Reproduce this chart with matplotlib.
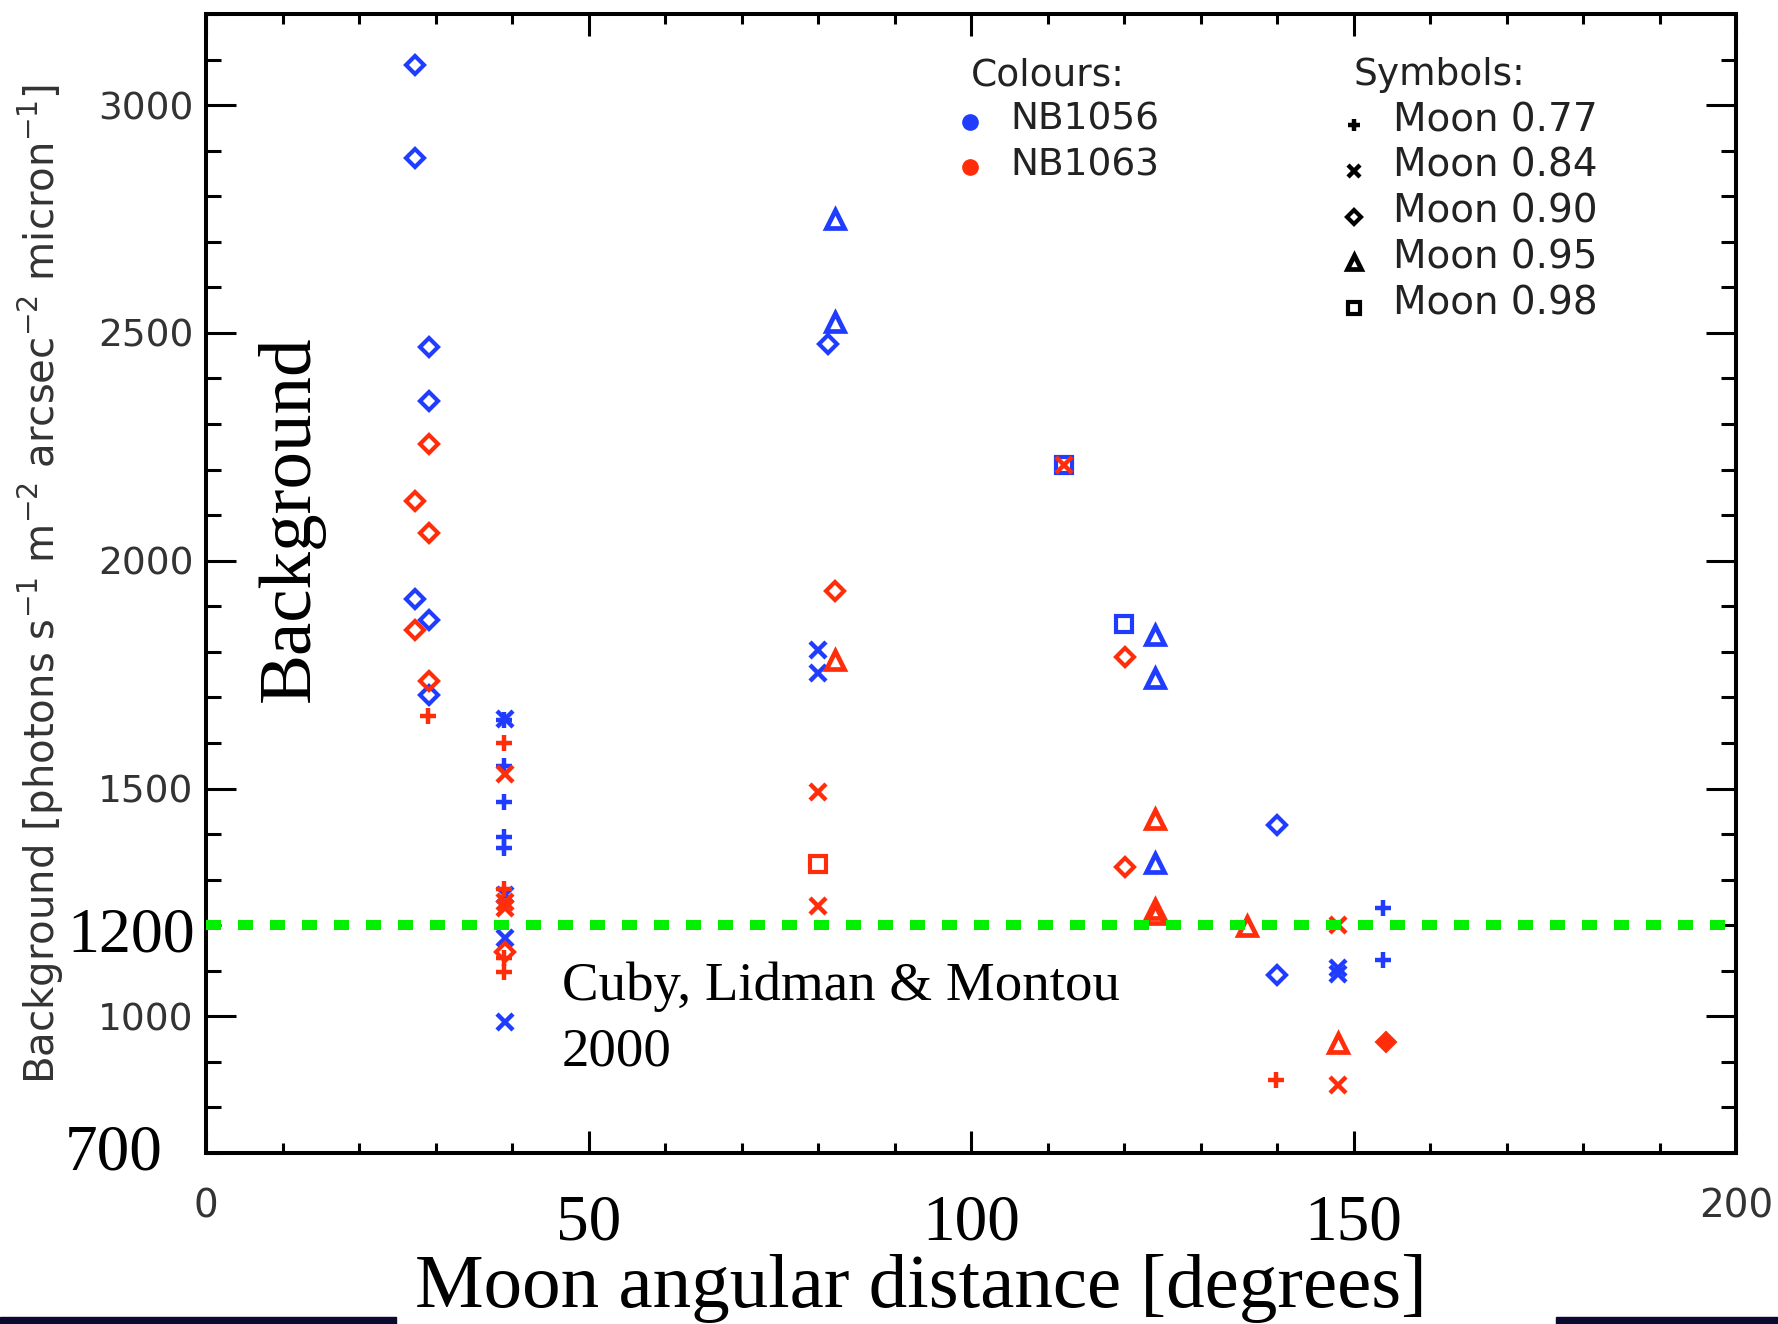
import matplotlib.pyplot as plt
from matplotlib.patches import Rectangle
from matplotlib.ticker import MultipleLocator
from matplotlib.transforms import blended_transform_factory

W, H = 1778, 1324

# Sky background vs Moon distance, NB1056 (blue) and NB1063 (red)
# moon phase 0.77 -> '+', 0.84 -> 'x', 0.90 -> diamond, 0.95 -> triangle, 0.98 -> square
nb1056_p77_dist = [39.0, 39.0, 39.0, 39.0, 39.0, 153.9, 153.9]
nb1056_p77_bg = [1651, 1550, 1471, 1394, 1370, 1238, 1123]
nb1056_p84_dist = [39.1, 39.1, 39.1, 39.1, 80.0, 80.0, 148.0, 148.0]
nb1056_p84_bg = [1652, 1266, 1171, 988, 1804, 1753, 1107, 1092]
nb1056_p90_dist = [27.3, 27.3, 29.2, 29.2, 27.3, 29.2, 29.2, 81.3, 140.0, 140.0]
nb1056_p90_bg = [3087, 2885, 2470, 2350, 1915, 1869, 1706, 2476, 1419, 1090]
nb1056_p95_dist = [82.2, 82.2, 124.0, 124.0, 124.0]
nb1056_p95_bg = [2750, 2525, 1837, 1742, 1336]
nb1056_p98_dist = [112.1, 120.0]
nb1056_p98_bg = [2210, 1861]

nb1063_p77_dist = [29.0, 39.0, 39.0, 39.0, 39.0, 139.9]
nb1063_p77_bg = [1659, 1601, 1280, 1127, 1098, 860]
nb1063_p84_dist = [39.1, 39.1, 39.1, 80.0, 80.0, 112.1, 148.0, 148.0]
nb1063_p84_bg = [1531, 1252, 1237, 1493, 1242, 2210, 1200, 849]
nb1063_p90_dist = [29.2, 27.3, 29.2, 27.3, 29.2, 39.1, 82.2, 120.1, 120.1]
nb1063_p90_bg = [2257, 2132, 2061, 1848, 1737, 1142, 1934, 1788, 1328]
nb1063_p95_dist = [82.2, 124.0, 124.0, 124.0, 136.1, 148.0]
nb1063_p95_bg = [1781, 1433, 1235, 1225, 1198, 942]
nb1063_p98_dist = [80.0]
nb1063_p98_bg = [1334]
nb1063_solid_dist = [154.2]
nb1063_solid_bg = [943]

limit_bg = 1200
x_ticks = [0, 50, 100, 150, 200]
y_ticks = [1000, 1500, 2000, 2500, 3000]

BLUE = '#1f3cff'
RED = '#ff2d0a'
GREEN = '#00f000'
IDL = ['DejaVu Sans']
SERIF = ['Liberation Serif', 'DejaVu Serif']

# marker style per moon phase: (marker, size, edge width, hollow)
styles = {
    '0.77': ('+', 11, 3.2, False),
    '0.84': ('x', 11, 3.2, False),
    '0.90': ('D', 9.5, 3.0, True),
    '0.95': ('^', 12.5, 3.4, True),
    '0.98': ('s', 11.5, 3.0, True),
}

series = [
    (BLUE, '0.77', nb1056_p77_dist, nb1056_p77_bg),
    (BLUE, '0.84', nb1056_p84_dist, nb1056_p84_bg),
    (BLUE, '0.90', nb1056_p90_dist, nb1056_p90_bg),
    (BLUE, '0.95', nb1056_p95_dist, nb1056_p95_bg),
    (BLUE, '0.98', nb1056_p98_dist, nb1056_p98_bg),
    (RED, '0.77', nb1063_p77_dist, nb1063_p77_bg),
    (RED, '0.84', nb1063_p84_dist, nb1063_p84_bg),
    (RED, '0.90', nb1063_p90_dist, nb1063_p90_bg),
    (RED, '0.95', nb1063_p95_dist, nb1063_p95_bg),
    (RED, '0.98', nb1063_p98_dist, nb1063_p98_bg),
]


def fx(x):
    return x / W


def fy(y):
    return 1 - y / H


fig = plt.figure(figsize=(W / 100, H / 100), dpi=100)
ax = fig.add_axes([fx(206), fy(1153), fx(1736) - fx(206), fy(14) - fy(1153)])

for color, phase, xs, ys in series:
    m, ms, mew, hollow = styles[phase]
    ax.plot(xs, ys, linestyle='none', marker=m, ms=ms, mew=mew, color=color,
            mfc='none' if hollow else color, zorder=3)
ax.plot(nb1063_solid_dist, nb1063_solid_bg, linestyle='none', marker='D', ms=10,
        mew=1.5, color=RED, zorder=3)

# 1200 limit
ax.axhline(limit_bg, color=GREEN, lw=7.2, dashes=(1.5, 1.7), dash_capstyle='butt', zorder=4)

ax.set_xlim(0, 200)
ax.set_ylim(700, 3200)
ax.set_xticks(x_ticks)
ax.xaxis.set_minor_locator(MultipleLocator(10))
ax.set_yticks(y_ticks)
ax.yaxis.set_minor_locator(MultipleLocator(100))
# only the end labels use the plot font, the inner ones are set in serif below
ax.set_xticklabels([str(t) if t in (0, 200) else '' for t in x_ticks])

for sp in ax.spines.values():
    sp.set_linewidth(2.9)
ax.tick_params(which='both', direction='in', top=True, right=True, width=2.2,
               labelcolor='#333333')
ax.tick_params(axis='x', which='major', length=15.8, pad=25, labelsize=28)
ax.tick_params(axis='x', which='minor', length=7.2)
ax.tick_params(axis='y', which='major', length=21.6, pad=9, labelsize=27)
ax.tick_params(axis='y', which='minor', length=10.8)
for lab in ax.get_xticklabels() + ax.get_yticklabels():
    lab.set_family(IDL)

ax.set_ylabel(r'Background [photons s$^{-1}$ m$^{-2}$ arcsec$^{-2}$ micron$^{-1}$]',
              family=IDL, fontsize=29, color='#333333')
ax.yaxis.set_label_coords(-(206 - 66) / (1736 - 206), 0.5)

# legend panels
fig.text(fx(971), fy(75), 'Colours:', family=IDL, fontsize=27, va='center', color='#222222')
for yy, col, name in [(120, BLUE, 'NB1056'), (165, RED, 'NB1063')]:
    ax.plot([fx(970)], [fy(yy + 2)], transform=fig.transFigure, clip_on=False,
            marker='o', ms=11, color=col, linestyle='none')
    fig.text(fx(1010), fy(yy), name, family=IDL, fontsize=27, va='center', color='#222222')

fig.text(fx(1353), fy(75), 'Symbols:', family=IDL, fontsize=27, va='center', color='#222222')
for i, phase in enumerate(['0.77', '0.84', '0.90', '0.95', '0.98']):
    yy = 120 + i * 45.8
    m, ms, mew, hollow = styles[phase]
    ax.plot([fx(1354)], [fy(yy + 5)], transform=fig.transFigure, clip_on=False,
            marker=m, ms=ms * 0.8, mew=mew, color='black',
            mfc='none' if hollow else 'black', linestyle='none')
    fig.text(fx(1393), fy(yy), 'Moon ' + phase, family=IDL, fontsize=28, va='center',
             color='#222222')

# serif overlay labels
tx = blended_transform_factory(ax.transData, fig.transFigure)
for v in x_ticks[1:-1]:
    ax.text(v, fy(1239), str(v), transform=tx, ha='center', va='baseline',
            family=SERIF, fontsize=47)
fig.text(fx(195), fy(952), '1200', ha='right', va='baseline', family=SERIF, fontsize=46)
fig.text(fx(163), fy(1169), '700', ha='right', va='baseline', family=SERIF, fontsize=47)
fig.text(fx(291), fy(519), 'Background', rotation=90, ha='center', va='center',
         family=SERIF, fontsize=54)
fig.text(fx(562), fy(1000), 'Cuby, Lidman & Montou', ha='left', va='baseline',
         family=SERIF, fontsize=39.5)
fig.text(fx(562), fy(1065), '2000', ha='left', va='baseline', family=SERIF, fontsize=39.5)
fig.text(fx(415), fy(1307), 'Moon angular distance [degrees]', ha='left', va='baseline',
         family=SERIF, fontsize=55.5)

# dark strips along the bottom edge
for x0, x1 in [(0, 396), (1556, W)]:
    fig.patches.append(Rectangle((fx(x0), 0), fx(x1) - fx(x0), 7.5 / H,
                                 transform=fig.transFigure, color='#0a0a30'))

fig.savefig('out.png', dpi=100, facecolor='white')
